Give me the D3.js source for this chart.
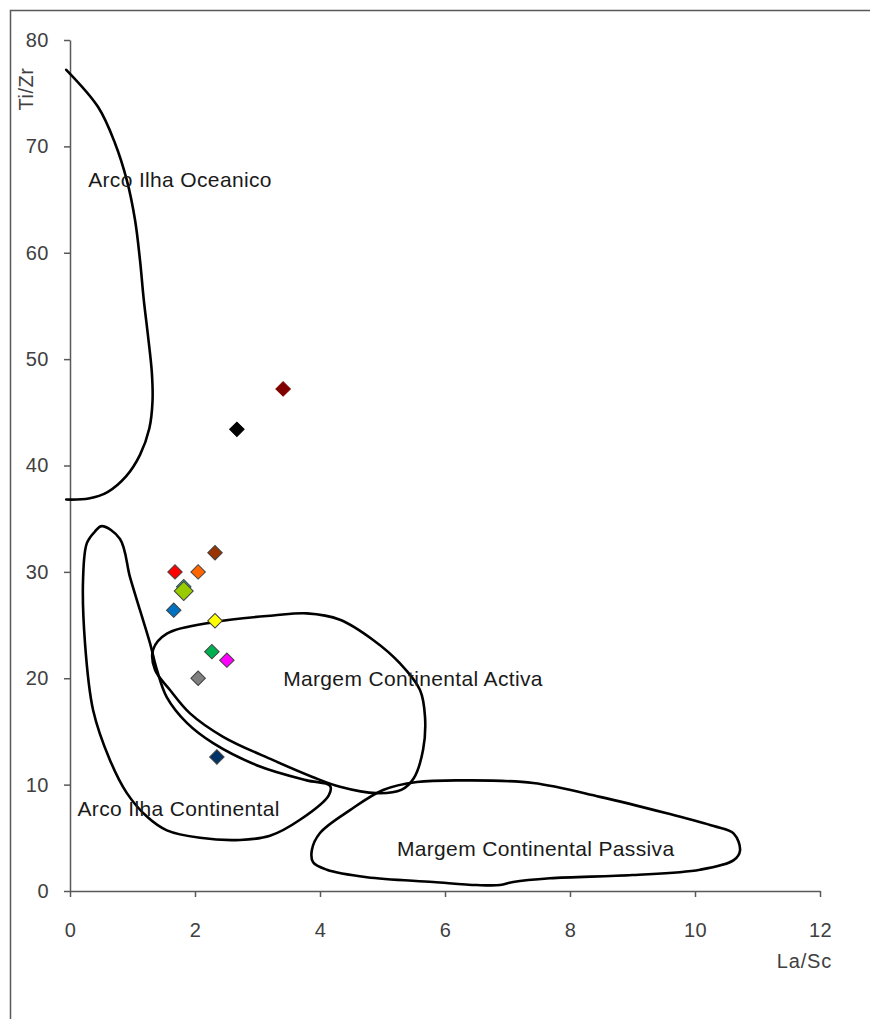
<!DOCTYPE html>
<html>
<head>
<meta charset="utf-8">
<script src="https://cdn.jsdelivr.net/npm/d3@7"></script>
<style>
  html, body { margin: 0; padding: 0; background: #ffffff; }
  svg { display: block; font-family: Arial, "Liberation Sans", sans-serif; }
</style>
</head>
<body>
<svg id="chart" width="870" height="1019"></svg>
<script>
// ---------- DATA ----------
const xTicks = [0, 2, 4, 6, 8, 10, 12];
const yTicks = [0, 10, 20, 30, 40, 50, 60, 70, 80];
const xTitle = "La/Sc";
const yTitle = "Ti/Zr";

// samples: La/Sc, Ti/Zr
const sampleNames = ["s1", "s2", "s3", "s4", "s5", "s6", "s7", "s8", "s9", "s10", "s11", "s12", "s13"];
const laSc = [3.41, 2.67, 2.32, 1.68, 2.05, 1.82, 1.82, 1.66, 2.32, 2.27, 2.51, 2.05, 2.35];
const tiZr = [47.2, 43.4, 31.8, 30.0, 30.0, 28.6, 28.2, 26.4, 25.4, 22.5, 21.7, 20.0, 12.6];
const sampleColors = ["#800000", "#000000", "#993300", "#ff0000", "#ff6600", "#33cccc", "#99cc00",
                      "#0070c0", "#ffff00", "#00b050", "#ff00ff", "#808080", "#003366"];
const sampleBig = [false, false, false, false, false, false, true, false, false, false, false, false, false];

// discrimination fields (La/Sc, Ti/Zr)
const fieldOceanico = [
  [-0.06, 77.2], [0.45, 73.7], [0.72, 70.3], [0.91, 66.8], [1.04, 63.1], [1.12, 59.3],
  [1.18, 55.6], [1.25, 52.1], [1.31, 48.7], [1.32, 46.0], [1.27, 43.5], [1.12, 41.0],
  [0.9, 39.0], [0.6, 37.5], [0.3, 36.9], [-0.06, 36.8]
];
const fieldArcoContinental = [
  [0.51, 34.3], [0.80, 33.1], [0.96, 29.5], [1.12, 26.4], [1.28, 23.3], [1.39, 20.8],
  [1.55, 18.2], [1.87, 15.8], [2.29, 13.9], [3.04, 11.7], [3.79, 10.4], [4.16, 9.9],
  [4.14, 9.0], [3.68, 6.7], [3.2, 5.2], [2.72, 4.8], [2.08, 5.0], [1.55, 5.7],
  [1.23, 7.0], [0.91, 9.2], [0.64, 12.3], [0.37, 17.0], [0.24, 23.3], [0.21, 29.5],
  [0.27, 32.7], [0.40, 33.8]
];
const fieldActiva = [
  [1.33, 22.7], [1.55, 24.2], [2.32, 25.3], [3.25, 25.9], [3.79, 26.1], [4.32, 25.5],
  [4.85, 23.6], [5.28, 21.4], [5.6, 18.9], [5.68, 16.4], [5.65, 13.3], [5.5, 10.6],
  [5.3, 9.5], [4.9, 9.2], [4.32, 9.8], [3.89, 10.7], [3.25, 12.3], [2.45, 14.5],
  [1.92, 16.7], [1.6, 18.9], [1.36, 20.8]
];
const fieldPassiva = [
  [3.87, 3.85], [4.0, 5.45], [4.48, 7.6], [5.01, 9.5], [5.55, 10.25], [6.35, 10.4],
  [7.41, 10.15], [8.48, 8.85], [9.55, 7.3], [10.3, 6.1], [10.62, 5.4], [10.72, 3.8],
  [10.62, 2.9], [10.08, 2.0], [9.0, 1.5], [7.68, 1.2], [7.09, 0.85], [6.88, 0.56],
  [6.51, 0.56], [5.81, 0.85], [4.75, 1.3], [4.11, 2.0], [3.89, 2.7]
];

const fieldLabels = ["Arco Ilha Oceanico", "Margem Continental Activa", "Arco Ilha Continental", "Margem Continental Passiva"];
const fieldLabelX = [0.29, 3.41, 0.12, 5.23];
const fieldLabelY = [66.2, 19.3, 7.05, 3.3];

// ---------- LAYOUT ----------
const W = 870, H = 1019;
const mLeft = 70, mRight = 820, mTop = 40, mBottom = 891;

const svg = d3.select("#chart");

// outer frame (left and top edges visible)
svg.append("path")
  .attr("d", `M10.5,${H + 5} L10.5,10.5 L${W + 5},10.5`)
  .attr("fill", "none")
  .attr("stroke", "#595959")
  .attr("stroke-width", 1.5);

const x = d3.scaleLinear().domain([0, 12]).range([mLeft, mRight]);
const y = d3.scaleLinear().domain([0, 80]).range([mBottom, mTop]);

const axisColor = "#595959";
const textColor = "#404040";
const tickFont = "20px";

// Y axis
const gy = svg.append("g")
  .attr("transform", `translate(${mLeft},0)`)
  .call(d3.axisLeft(y).tickValues(yTicks).tickSize(6).tickSizeOuter(0).tickPadding(15));
// X axis
const gx = svg.append("g")
  .attr("transform", `translate(0,${mBottom})`)
  .call(d3.axisBottom(x).tickValues(xTicks).tickSize(6).tickSizeOuter(0).tickPadding(26));

[gx, gy].forEach(g => {
  g.select(".domain").attr("stroke", axisColor).attr("stroke-width", 1.5);
  g.selectAll(".tick line").attr("stroke", axisColor).attr("stroke-width", 1.5);
  g.selectAll(".tick text")
    .attr("fill", textColor)
    .style("font-size", tickFont)
    .style("letter-spacing", "0.5px")
    .style("font-family", "Arial, 'Liberation Sans', sans-serif");
});

// axis titles
svg.append("text")
  .attr("transform", `translate(33,89) rotate(-90)`)
  .attr("text-anchor", "middle")
  .attr("fill", textColor)
  .style("font-size", tickFont)
  .style("letter-spacing", "0.5px")
  .text(yTitle);

svg.append("text")
  .attr("x", 832).attr("y", 968)
  .attr("text-anchor", "end")
  .attr("fill", textColor)
  .style("font-size", tickFont)
  .style("letter-spacing", "0.8px")
  .text(xTitle);

// fields
const openLine = d3.line().x(d => x(d[0])).y(d => y(d[1])).curve(d3.curveCatmullRom.alpha(0.5));
const closedLine = d3.line().x(d => x(d[0])).y(d => y(d[1])).curve(d3.curveCatmullRomClosed.alpha(0.5));

const gf = svg.append("g").attr("fill", "none").attr("stroke", "#000").attr("stroke-width", 2.6)
  .attr("stroke-linejoin", "round").attr("stroke-linecap", "round");
gf.append("path").attr("d", openLine(fieldOceanico));
gf.append("path").attr("d", closedLine(fieldArcoContinental));
gf.append("path").attr("d", closedLine(fieldActiva));
gf.append("path").attr("d", closedLine(fieldPassiva));

// field labels
svg.append("g").selectAll("text")
  .data(fieldLabels)
  .join("text")
  .attr("x", (d, i) => x(fieldLabelX[i]))
  .attr("y", (d, i) => y(fieldLabelY[i]))
  .attr("fill", "#1a1a1a")
  .style("font-size", "21px")
  .style("letter-spacing", "0.35px")
  .text(d => d);

// samples
const samples = sampleNames.map((n, i) => ({ n, x: laSc[i], y: tiZr[i], c: sampleColors[i], big: sampleBig[i] }));
const sym = d3.symbol().type(d3.symbolSquare);
svg.append("g").selectAll("path")
  .data(samples)
  .join("path")
  .attr("transform", d => `translate(${x(d.x)},${y(d.y)}) rotate(45)`)
  .attr("d", d => sym.size(d.big ? 180 : 105)())
  .attr("fill", d => d.c)
  .attr("stroke", d => d.c === "#000000" || d.c === "#800000" ? d.c : "#404040")
  .attr("stroke-width", 1);
</script>
</body>
</html>
